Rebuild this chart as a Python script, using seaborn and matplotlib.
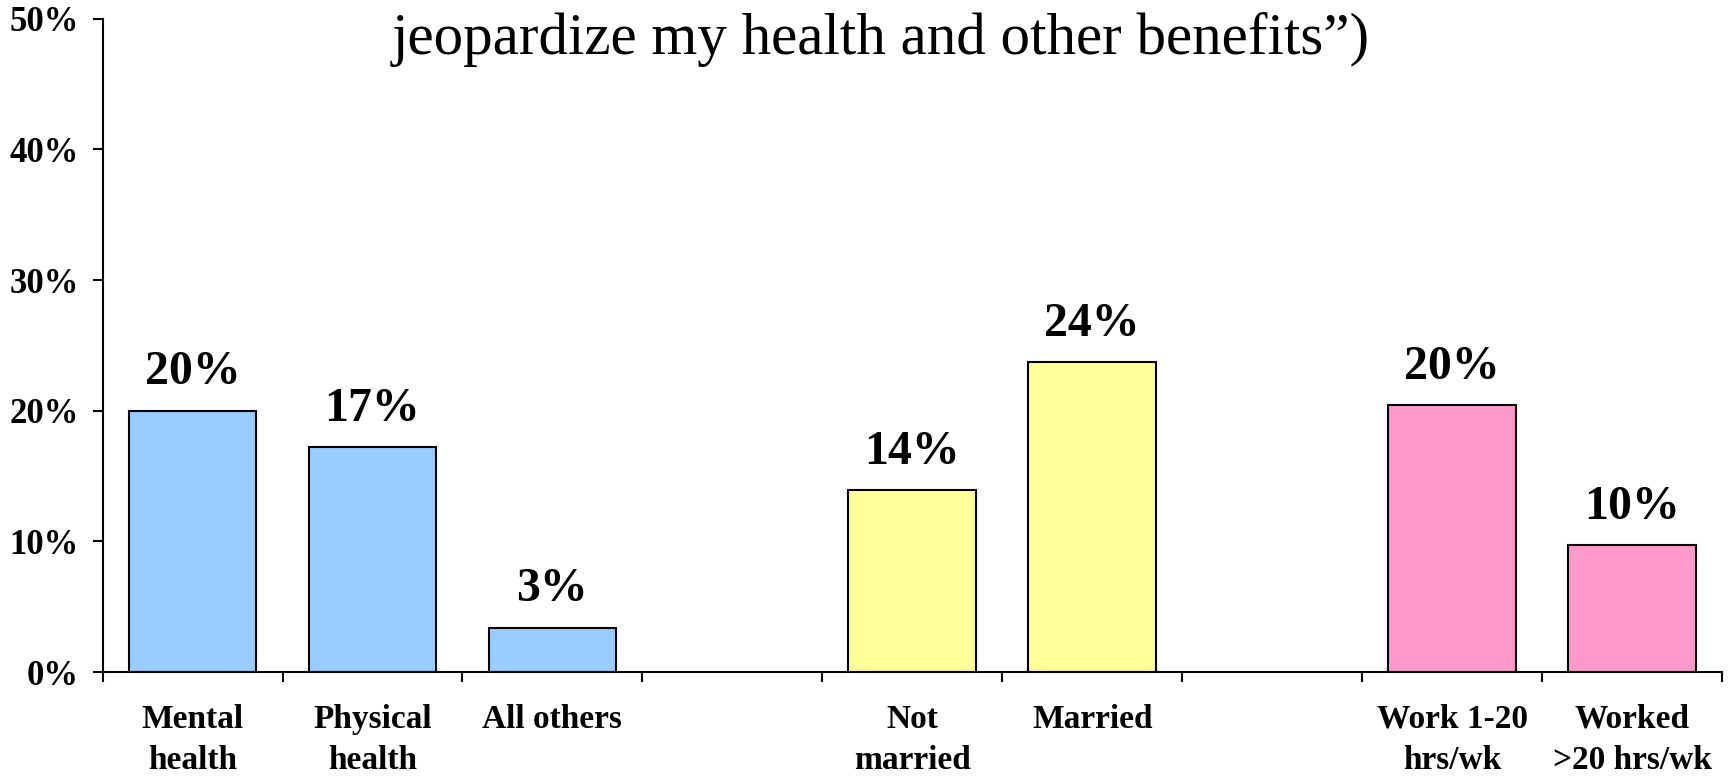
import numpy as np
import pandas as pd
import matplotlib
matplotlib.use("Agg")
import matplotlib.pyplot as plt
import seaborn as sns

# values (percent)
categories = ["Mental\nhealth", "Physical\nhealth", "All others",
              "Not\nmarried", "Married",
              "Work 1-20\nhrs/wk", "Worked\n>20 hrs/wk"]
values = [20.0, 17.2, 3.4, 13.9, 23.7, 20.4, 9.7]
groups = ["health", "health", "health", "marital", "marital", "work", "work"]
# slot order, blanks leave gaps between the groups
order = ["Mental\nhealth", "Physical\nhealth", "All others", " ",
         "Not\nmarried", "Married", "  ",
         "Work 1-20\nhrs/wk", "Worked\n>20 hrs/wk"]
palette = {"health": "#99CCFF", "marital": "#FFFF99", "work": "#FF99CC"}
title = "jeopardize my health and other benefits\u201d)"

df = pd.DataFrame({"category": categories, "value": values, "group": groups})

sns.set_style("white")
plt.rcParams["font.family"] = ["Liberation Serif", "DejaVu Serif"]
plt.rcParams["text.color"] = "black"
plt.rcParams["xtick.color"] = "black"
plt.rcParams["ytick.color"] = "black"

fig = plt.figure(figsize=(17.3, 7.76), dpi=100)
ax = fig.add_axes([0.0593, 0.134, 0.9361, 0.8418])

sns.barplot(data=df, x="category", y="value", hue="group", order=order,
            palette=palette, saturation=1, dodge=False, width=0.71,
            edgecolor="black", linewidth=1.5, legend=False, ax=ax)

# value labels above each bar
for cat, v in zip(categories, values):
    xpos = order.index(cat)
    ax.annotate(f"{round(v)}%", (xpos, v), xytext=(0, 12), textcoords="offset points",
                ha="center", va="bottom", fontsize=34.5, fontweight="bold",
                color="black")

ax.set_xlim(-0.5, len(order) - 0.5)
ax.set_ylim(0, 50)
ax.set_yticks([0, 10, 20, 30, 40, 50])
ax.set_yticklabels([f"{t}%" for t in [0, 10, 20, 30, 40, 50]],
                   fontsize=25, fontweight="bold")
ax.set_xticks(range(len(order)))
ax.set_xticklabels(order, fontsize=24, fontweight="bold", linespacing=1.4)
ax.set_xticks(np.arange(-0.5, len(order)), minor=True)
ax.tick_params(axis="x", which="major", bottom=True, length=0, pad=23)
ax.tick_params(axis="x", which="minor", bottom=True, length=7, width=1.5,
               direction="out")
ax.tick_params(axis="y", which="major", left=True, length=7, width=1.5,
               direction="out", pad=10)
ax.set_xlabel("")
ax.set_ylabel("")

for s in ["top", "right"]:
    ax.spines[s].set_visible(False)
for s in ["left", "bottom"]:
    ax.spines[s].set_color("black")
    ax.spines[s].set_linewidth(1.5)

fig.text(0.509, 0.93, title, ha="center", va="baseline", fontsize=42.5,
         color="black")

fig.savefig("out.png", dpi=100)
